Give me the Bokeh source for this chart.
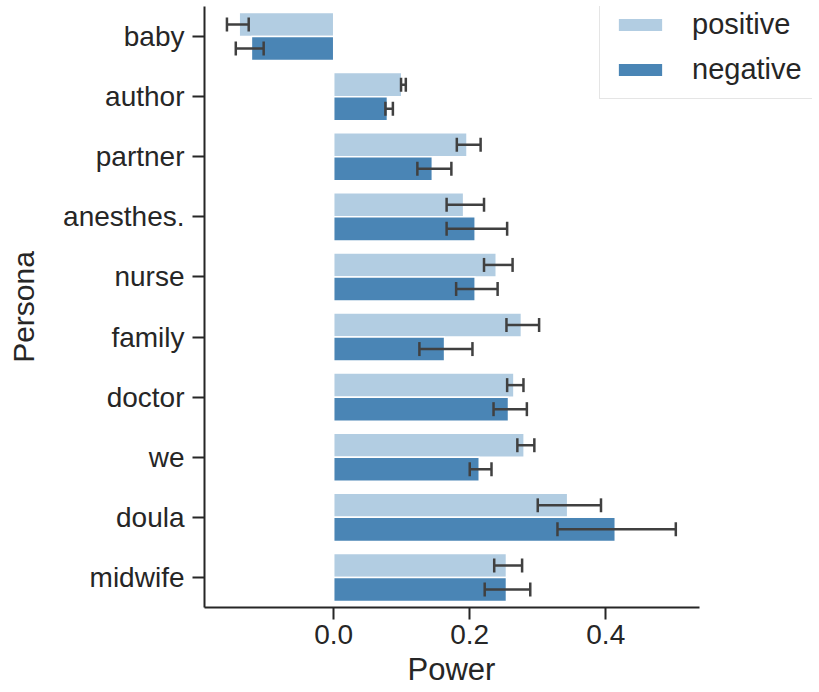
from bokeh.plotting import figure
from bokeh.models import (Range1d, FactorRange, ColumnDataSource, Whisker, TeeHead,
                          FixedTicker, Legend, LegendItem, PrintfTickFormatter, Title)
from bokeh.transform import dodge
from bokeh.embed import file_html
from bokeh.resources import INLINE

personas = ["baby", "author", "partner", "anesthes.", "nurse", "family",
            "doctor", "we", "doula", "midwife"]
pos_mean = [-0.139, 0.100, 0.196, 0.191, 0.239, 0.276, 0.265, 0.280, 0.344, 0.254]
pos_lo = [-0.157, 0.099, 0.181, 0.166, 0.221, 0.254, 0.255, 0.270, 0.300, 0.236]
pos_hi = [-0.125, 0.106, 0.216, 0.221, 0.263, 0.302, 0.279, 0.295, 0.393, 0.277]
neg_mean = [-0.121, 0.079, 0.145, 0.208, 0.208, 0.163, 0.257, 0.214, 0.414, 0.254]
neg_lo = [-0.144, 0.076, 0.123, 0.166, 0.180, 0.126, 0.235, 0.200, 0.329, 0.222]
neg_hi = [-0.103, 0.087, 0.173, 0.255, 0.241, 0.204, 0.284, 0.232, 0.503, 0.289]
x_ticks = [0.0, 0.2, 0.4]
X_MIN, X_AXIS_END, X_VIEW_END = -0.190, 0.538, 0.704

FONT = "Liberation Sans"
TXT = "#262626"
POS_C = "#b2cde2"
NEG_C = "#4a85b5"

p = figure(width=817, height=692, output_backend="svg", toolbar_location=None,
           x_range=Range1d(X_MIN, X_VIEW_END),
           y_range=FactorRange(factors=list(reversed(personas))),
           min_border_left=204, min_border_right=5, min_border_top=6,
           min_border_bottom=85)
p.outline_line_color = None
p.xgrid.visible = False
p.ygrid.visible = False
p.background_fill_color = "white"

src = ColumnDataSource(dict(persona=personas, pos=pos_mean, pos_lo=pos_lo, pos_hi=pos_hi,
                            neg=neg_mean, neg_lo=neg_lo, neg_hi=neg_hi))

r_pos = p.hbar(y=dodge("persona", 0.2, range=p.y_range), left=0, right="pos", height=0.4,
               source=src, fill_color=POS_C, line_color="white", line_width=1.5)
r_neg = p.hbar(y=dodge("persona", -0.2, range=p.y_range), left=0, right="neg", height=0.4,
               source=src, fill_color=NEG_C, line_color="white", line_width=1.5)

for off, lo, hi in [(0.2, "pos_lo", "pos_hi"), (-0.2, "neg_lo", "neg_hi")]:
    w = Whisker(base=dodge("persona", off, range=p.y_range), lower=lo, upper=hi, source=src,
                dimension="width", line_color="#404040", line_width=2.5,
                upper_head=TeeHead(size=14, line_color="#404040", line_width=2.5),
                lower_head=TeeHead(size=14, line_color="#404040", line_width=2.5))
    w.level = "annotation"
    p.add_layout(w)

for ax in (p.xaxis[0], p.yaxis[0]):
    ax.axis_line_color = TXT
    ax.axis_line_width = 2
    ax.major_tick_line_color = TXT
    ax.major_tick_line_width = 2
    ax.major_tick_out = 12
    ax.major_tick_in = 0
    ax.minor_tick_line_color = None
    ax.major_label_text_font = FONT
    ax.major_label_text_font_size = "28px"
    ax.major_label_text_color = TXT
    ax.axis_label_text_font = FONT
    ax.axis_label_text_font_size = "30px"
    ax.axis_label_text_font_style = "normal"
    ax.axis_label_text_color = TXT

p.xaxis.bounds = (X_MIN, X_AXIS_END)
p.xaxis.ticker = FixedTicker(ticks=x_ticks)
p.xaxis.formatter = PrintfTickFormatter(format="%.1f")
p.xaxis.major_label_standoff = 5
p.yaxis.axis_label = "Persona"
p.yaxis.major_label_standoff = 8
p.yaxis.axis_label_standoff = 20

xlabel = Title(text="Power", align="left", offset=203, standoff=6,
               text_font=FONT, text_font_size="31px", text_font_style="normal",
               text_color=TXT)
p.add_layout(xlabel, "below")

legend = Legend(items=[LegendItem(label="positive", renderers=[r_pos]),
                       LegendItem(label="negative", renderers=[r_neg])],
                location=(395, 508), orientation="vertical")
legend.label_text_font = FONT
legend.label_text_font_size = "29px"
legend.label_text_color = TXT
legend.glyph_width = 56
legend.glyph_height = 17
legend.label_height = 28
legend.label_standoff = 24
legend.spacing = 12
legend.padding = 12
legend.margin = 0
legend.border_line_color = "#cccccc"
legend.border_line_width = 1.5
legend.background_fill_alpha = 1.0
p.add_layout(legend, "center")

open("out.html", "w").write(file_html(p, INLINE))
